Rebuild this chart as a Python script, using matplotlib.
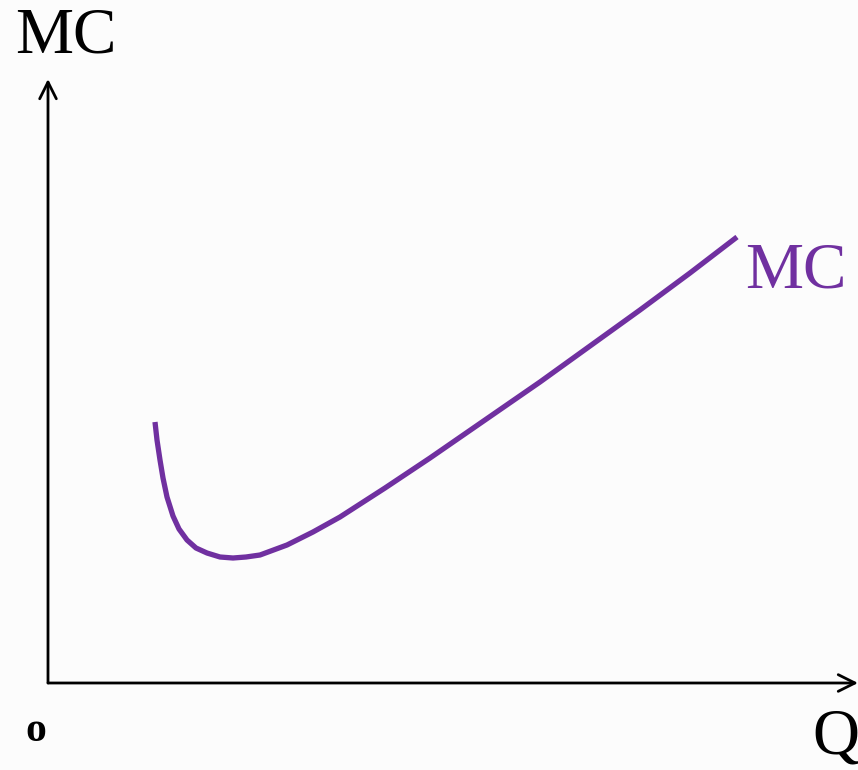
import numpy as np
import matplotlib.pyplot as plt

# MC curve (arbitrary units, origin at the axes corner)
q = [107, 109, 112, 115, 119, 125, 131, 139, 148, 159, 172, 185, 198, 212,
     239, 265, 292, 337, 382, 437, 492, 542, 592, 642, 689]
mc = [261, 243, 223, 205, 186, 167, 154, 143, 135, 130, 126, 125, 126, 128,
      138, 151, 166, 195, 225, 263, 301, 337, 373, 410, 446]

purple = '#7030a0'
plt.rcParams['font.family'] = ['Liberation Serif', 'DejaVu Serif']

fig = plt.figure(figsize=(8.58, 7.7), dpi=100, facecolor='#fcfcfc')
ax = fig.add_axes([0, 0, 1, 1])
ax.set_facecolor('#fcfcfc')
ax.set_xlim(-48, 810)
ax.set_ylim(-87, 683)
ax.axis('off')

# axes with open arrow heads
arrow = dict(arrowstyle='->', lw=2, color='black', mutation_scale=30, shrinkA=0, shrinkB=0)
ax.annotate('', xy=(0, 604), xytext=(0, 0), arrowprops=arrow)
ax.annotate('', xy=(810, 0), xytext=(0, 0), arrowprops=arrow)

ax.plot(q, mc, color=purple, lw=3.8, solid_capstyle='butt', solid_joinstyle='round')

ax.text(-33, 646, 'MC', fontsize=47, ha='left', va='center')
ax.text(697, 411, 'MC', fontsize=47, ha='left', va='center', color=purple)
ax.text(764, -55, 'Q', fontsize=47, ha='left', va='center')
ax.text(-12, -48, 'o', fontsize=30, ha='center', va='center', fontweight='bold')

fig.savefig('out.png', dpi=100, facecolor=fig.get_facecolor())
